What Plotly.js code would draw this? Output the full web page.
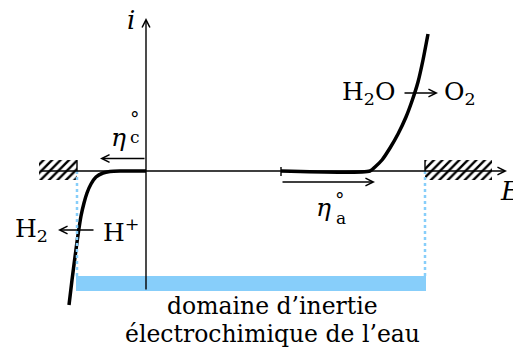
<!DOCTYPE html>
<html>
<head>
<meta charset="utf-8">
<script src="https://cdn.plot.ly/plotly-3.0.1.min.js"></script>
<style>
  html, body { margin: 0; padding: 0; background: #fff; }
  #chart { width: 513px; height: 352px; }
</style>
</head>
<body>
<div id="chart"></div>
<script>
// Current–potential curve of water: reduction wave (H+ -> H2) and oxidation wave (H2O -> O2)
const E_red = [-77, -74, -71, -68, -65, -62, -59, -55, -50, -43, -36, -26, 0];
const i_red = [-134, -109, -86, -64, -45, -32, -22, -13, -6, -2, -0.5, 0, 0];
const E_ox = [135, 224, 229, 236, 244, 252, 260, 266, 272, 277, 282];
const i_ox = [0, 0, 4, 11, 23, 37, 54, 70, 89, 111, 137];

// Potentials bounding the electrochemical window, and the equilibrium potential of the anodic couple
const E_lim_c = -69;
const E_lim_a = 279;
const E_eq_a = 135;

const SERIF = 'DejaVu Serif, Liberation Serif, serif';
const BLUE = '#87CEFA';

// hatched "walls" beyond the window
function wall(x0, x1) {
  return {
    x: [x0, x1, x1, x0, x0],
    y: [11, 11, -9, -9, 11],
    mode: 'lines',
    fill: 'toself',
    fillcolor: 'white',
    fillpattern: { shape: '/', size: 6, solidity: 0.4, fgcolor: 'black', bgcolor: 'white' },
    line: { width: 0 },
    hoverinfo: 'skip'
  };
}

const traces = [
  wall(E_lim_c - 38, E_lim_c),
  wall(E_lim_a, E_lim_a + 67),
  {
    x: E_red, y: i_red, mode: 'lines',
    line: { color: 'black', width: 3.5, shape: 'spline', smoothing: 0.6 },
    hoverinfo: 'skip'
  },
  {
    x: E_ox, y: i_ox, mode: 'lines',
    line: { color: 'black', width: 3.5, shape: 'spline', smoothing: 0.6 },
    hoverinfo: 'skip'
  }
];

function arrow(x, y, ax, ay) {
  return {
    x: x, y: y, ax: ax, ay: ay, xref: 'x', yref: 'y', axref: 'x', ayref: 'y',
    text: '', showarrow: true, arrowhead: 5, arrowsize: 1.1, arrowwidth: 1.4, arrowcolor: 'black'
  };
}
function label(text, x, y, size, xanchor) {
  return {
    x: x, y: y, xref: 'x', yref: 'y', text: text, showarrow: false,
    xanchor: xanchor || 'center', yanchor: 'middle',
    font: { family: SERIF, size: size, color: 'black' }
  };
}

const annotations = [
  // axes
  arrow(361, 0, -107, 0),
  arrow(0, 153, 0, -120),
  label('<i>i</i>', -15, 151, 26),
  label('<i>E</i>', 352, -20, 26, 'left'),
  // overpotentials (η with stacked ° and index)
  arrow(-46, 12.5, 0, 12.5),
  label('<i>η</i>', -28, 34, 25),
  label('°', -11, 53, 19),
  label('c', -11, 34, 17),
  arrow(229, -11, E_eq_a, -11),
  label('<i>η</i>', 177, -36, 25),
  label('°', 194, -28, 19),
  label('a', 194.5, -47, 17),
  // half-reactions
  arrow(292, 78, 257, 78),
  label('H<sub>2</sub>O', 251, 78, 25, 'right'),
  label('O<sub>2</sub>', 296, 78, 25, 'left'),
  arrow(-88, -59, -51, -59),
  label('H<sub>2</sub>', -96, -59, 25, 'right'),
  label('H<sup>+</sup>', -45, -59, 25, 'left'),
  // window caption
  label('domaine d’inertie', 126, -135, 23.5),
  label('électrochimique de l’eau', 126, -163, 23.5)
];

const shapes = [
  { type: 'rect', xref: 'x', yref: 'y', x0: E_lim_c - 1, x1: E_lim_a + 1, y0: -105, y1: -120,
    fillcolor: BLUE, line: { width: 0 }, layer: 'below' },
  { type: 'line', xref: 'x', yref: 'y', x0: E_lim_c, x1: E_lim_c, y0: 0, y1: -105,
    line: { color: BLUE, width: 2.5, dash: 'dot' } },
  { type: 'line', xref: 'x', yref: 'y', x0: E_lim_a, x1: E_lim_a, y0: 0, y1: -105,
    line: { color: BLUE, width: 2.5, dash: 'dot' } },
  { type: 'line', xref: 'x', yref: 'y', x0: E_lim_c, x1: E_lim_c, y0: 0, y1: 11,
    line: { color: 'black', width: 1.4 } },
  { type: 'line', xref: 'x', yref: 'y', x0: E_lim_a, x1: E_lim_a, y0: 0, y1: 11,
    line: { color: 'black', width: 1.4 } },
  { type: 'line', xref: 'x', yref: 'y', x0: E_eq_a, x1: E_eq_a, y0: 4, y1: -5,
    line: { color: 'black', width: 1.4 } }
];

const layout = {
  width: 513, height: 352,
  margin: { l: 0, r: 0, t: 0, b: 0 },
  paper_bgcolor: 'white', plot_bgcolor: 'white',
  showlegend: false,
  xaxis: { range: [-146, 367], visible: false },
  yaxis: { range: [-181, 171], visible: false },
  shapes: shapes,
  annotations: annotations
};

Plotly.newPlot('chart', traces, layout, { staticPlot: true, displayModeBar: false });
</script>
</body>
</html>
